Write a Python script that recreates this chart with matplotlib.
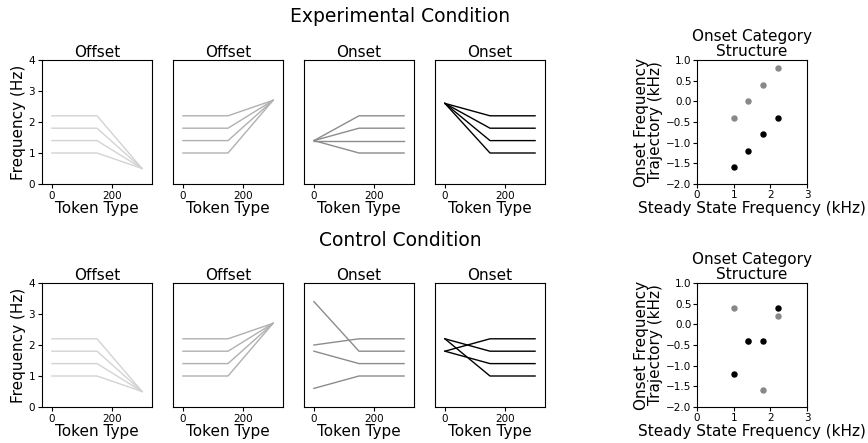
import matplotlib
matplotlib.use('Agg')
import matplotlib.pyplot as plt

# время токена: начало, конец установившейся части, конец
token_x = [0, 150, 300]
steady = [1.0, 1.4, 1.8, 2.2]

# экспериментальное условие: конечная частота оффсета, начальные частоты онсета
exp_offset_end = [0.5, 2.7]
exp_onset_start_gray = [1.4, 1.4, 1.4, 1.4]
exp_onset_start_black = [2.6, 2.6, 2.6, 2.6]
exp_onset_steady_black = [1.0, 1.4, 1.8, 2.2]

# контрольное условие
ctl_offset_end = [0.5, 2.7]
ctl_onset_start_gray = [0.6, 1.8, 3.4, 2.0]
ctl_onset_start_black = [2.2, 1.8, 1.8, 2.2]
ctl_onset_steady_black = [1.0, 1.4, 2.2, 1.8]

# точки структуры категорий (кГц)
exp_gray_x = [1.0, 1.4, 1.8, 2.2]
exp_gray_y = [-0.4, 0.0, 0.4, 0.8]
exp_black_x = [1.0, 1.4, 1.8, 2.2]
exp_black_y = [-1.6, -1.2, -0.8, -0.4]
ctl_gray_x = [1.0, 1.4, 1.8, 2.2]
ctl_gray_y = [0.4, -0.4, -1.6, 0.2]
ctl_black_x = [1.0, 1.4, 1.8, 2.2]
ctl_black_y = [-1.2, -0.4, -0.4, 0.4]

W, H = 868, 443
fig = plt.figure(figsize=(W / 100, H / 100), dpi=100)


def px_axes(x0, y_top, w, h):
    return fig.add_axes([x0 / W, (H - y_top - h) / H, w / W, h / H])


def line_panel(ax, title, lines, color, first):
    for ys in lines:
        ax.plot(token_x, ys, color=color, lw=1)
    ax.set_xlim(-33, 333)
    ax.set_ylim(0, 4)
    ax.set_xticks([0, 200])
    ax.tick_params(labelsize=7.5, length=3, pad=2)
    ax.set_title(title, fontsize=11, pad=2)
    ax.set_xlabel('Token Type', fontsize=11, labelpad=0)
    if first:
        ax.set_yticks([0, 1, 2, 3, 4])
        ax.set_ylabel('Frequency (Hz)', fontsize=11, labelpad=2)
    else:
        ax.set_yticks([])


def scatter_panel(ax, gx, gy, bx, by):
    ax.scatter(gx, gy, color='#888888', s=13, zorder=3)
    ax.scatter(bx, by, color='black', s=13, zorder=3)
    ax.set_xlim(0, 3)
    ax.set_ylim(-2, 1)
    ax.set_xticks([0, 1, 2, 3])
    ax.set_yticks([-2.0, -1.5, -1.0, -0.5, 0.0, 0.5, 1.0])
    ax.tick_params(labelsize=7.5, length=3, pad=1)
    ax.set_title('Onset Category\nStructure', fontsize=11, pad=3, linespacing=0.95)
    ax.set_xlabel('Steady State Frequency (kHz)', fontsize=11, labelpad=1)
    ax.set_ylabel('Onset Frequency\nTrajectory (kHz)', fontsize=11,
                  labelpad=2, linespacing=0.95)


panel_x = [42, 173, 304, 435]
rows = [
    (60, 'Experimental Condition', 17, exp_offset_end,
     exp_onset_start_gray, exp_onset_start_black, exp_onset_steady_black,
     (exp_gray_x, exp_gray_y, exp_black_x, exp_black_y)),
    (283, 'Control Condition', 240, ctl_offset_end,
     ctl_onset_start_gray, ctl_onset_start_black, ctl_onset_steady_black,
     (ctl_gray_x, ctl_gray_y, ctl_black_x, ctl_black_y)),
]

for top, head, head_y, off_end, on_gray, on_black, black_steady, pts in rows:
    fig.text(400 / W, 1 - head_y / H, head, fontsize=13.5,
             ha='center', va='center')
    offset_down = [[s, s, off_end[0]] for s in steady]
    offset_up = [[s, s, off_end[1]] for s in steady]
    onset_gray = [[a, s, s] for a, s in zip(on_gray, steady)]
    onset_black = [[a, s, s] for a, s in zip(on_black, black_steady)]
    panels = [('Offset', offset_down, '#d3d3d3'),
              ('Offset', offset_up, '#b0b0b0'),
              ('Onset', onset_gray, '#8c8c8c'),
              ('Onset', onset_black, 'black')]
    for i, (title, lines, color) in enumerate(panels):
        ax = px_axes(panel_x[i], top, 110, 124)
        line_panel(ax, title, lines, color, i == 0)
    ax = px_axes(697, top, 110, 124)
    scatter_panel(ax, *pts)

fig.savefig('out.png', dpi=100)
plt.close(fig)
